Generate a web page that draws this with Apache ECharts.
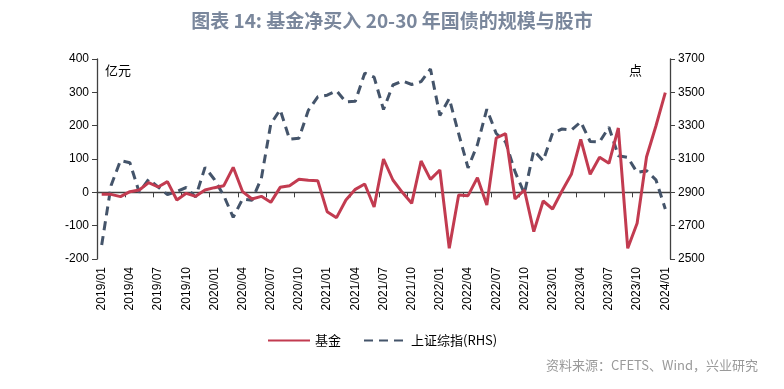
<!DOCTYPE html>
<html>
<head>
<meta charset="utf-8">
<script src="https://cdn.jsdelivr.net/npm/echarts@6/dist/echarts.min.js"></script>
<style>html,body{margin:0;padding:0;background:#fff;}#c{width:784px;height:389px;}</style>
</head>
<body>
<div id="c"></div>
<script>
// months 2019/01 .. 2024/01
const categories = [];
for (let y = 2019; y <= 2024; y++) {
  for (let m = 1; m <= 12; m++) {
    if (y === 2024 && m > 1) break;
    categories.push(y + '/' + (m < 10 ? '0' + m : m));
  }
}
// 基金净买入20-30年国债（亿元）
const fundValues = [
  -6, -6, -13, 2, 7, 29, 16, 32, -23, -3, -12, 7,
  14, 20, 75, 2, -20, -12, -30, 15, 20, 39, 36, 35,
  -58, -76, -23, 9, 25, -44, 100, 37, 0, -33, 94, 39,
  67, -168, -8, -10, 44, -38, 163, 176, -20, 7, -118, -26,
  -50, 4, 54, 159, 54, 105, 87, 193, -168, -93, 106, 199,
  299
];
// 上证综指（点, RHS）
const sseValues = [
  2584, 2941, 3091, 3078, 2899, 2979, 2933, 2886, 2905, 2929, 2872, 3050,
  2977, 2880, 2750, 2860, 2852, 2985, 3310, 3396, 3218, 3225, 3392, 3473,
  3483, 3509, 3442, 3447, 3615, 3591, 3397, 3544, 3568, 3547, 3564, 3640,
  3361, 3463, 3252, 3047, 3186, 3399, 3253, 3202, 3024, 2893, 3151, 3089,
  3256, 3280, 3273, 3323, 3205, 3202, 3291, 3120, 3110, 3019, 3030, 2975,
  2800
];
const seriesNames = ['基金', '上证综指(RHS)'];

const axisColor = '#404040';
const chart = echarts.init(document.getElementById('c'));
chart.setOption({
  animation: false,
  backgroundColor: '#fff',
  title: {
    text: '图表 14: 基金净买入 20-30 年国债的规模与股市',
    left: 'center', top: 6,
    textStyle: { fontFamily: 'Noto Sans CJK SC', fontSize: 19, fontWeight: 'bold', color: '#7a879c' }
  },
  graphic: [
    { type: 'text', left: 105, top: 64, style: { text: '亿元', font: '13px "Noto Sans CJK SC"', fill: '#000' } },
    { type: 'text', left: 629, top: 64, style: { text: '点', font: '13px "Noto Sans CJK SC"', fill: '#000' } },
    { type: 'text', right: 26, top: 359, style: { text: '资料来源：CFETS、Wind，兴业研究', font: '13px "Noto Sans CJK SC"', fill: '#9a9a9a' } }
  ],
  legend: {
    left: 262, top: 329,
    itemWidth: 42, itemHeight: 12, itemGap: 22,
    itemStyle: { opacity: 0 },
    textStyle: { fontFamily: 'Noto Sans CJK SC', fontSize: 13, color: '#000' },
    data: seriesNames
  },
  grid: { left: 97, right: 114, top: 59, bottom: 130 },
  xAxis: [
    {
      type: 'category', data: categories, boundaryGap: true,
      axisLine: { onZero: true, lineStyle: { color: axisColor, width: 1.3 } },
      axisTick: { show: true, interval: 2, length: 5, lineStyle: { color: axisColor } },
      axisLabel: { show: false },
      splitLine: { show: false }
    },
    {
      type: 'category', data: categories, boundaryGap: true, position: 'bottom',
      axisLine: { show: false, onZero: false },
      axisTick: { show: false },
      axisLabel: {
        interval: 2, rotate: 90, margin: 8,
        fontFamily: 'Liberation Sans', fontSize: 12, color: '#000'
      },
      splitLine: { show: false }
    }
  ],
  yAxis: [
    {
      type: 'value', min: -200, max: 400, interval: 100,
      axisLine: { show: true, lineStyle: { color: axisColor, width: 1.3 } },
      axisTick: { show: true, length: 5, lineStyle: { color: axisColor } },
      axisLabel: { fontFamily: 'Liberation Sans', fontSize: 12, color: '#000', margin: 8 },
      splitLine: { show: false }
    },
    {
      type: 'value', min: 2500, max: 3700, interval: 200, position: 'right',
      axisLine: { show: true, lineStyle: { color: axisColor, width: 1.3 } },
      axisTick: { show: true, length: 5, lineStyle: { color: axisColor } },
      axisLabel: { fontFamily: 'Liberation Sans', fontSize: 12, color: '#000', margin: 8, formatter: v => String(v) },
      splitLine: { show: false }
    }
  ],
  series: [
    {
      name: seriesNames[0], type: 'line', data: fundValues,
      xAxisIndex: 0, yAxisIndex: 0, symbol: 'none', z: 3,
      lineStyle: { color: '#c23b50', width: 3 }, itemStyle: { color: '#c23b50' }
    },
    {
      name: seriesNames[1], type: 'line', data: sseValues,
      xAxisIndex: 0, yAxisIndex: 1, symbol: 'none', z: 2,
      lineStyle: { color: '#44546a', width: 3, type: [9, 6] }, itemStyle: { color: '#44546a' }
    }
  ]
});
</script>
</body>
</html>
